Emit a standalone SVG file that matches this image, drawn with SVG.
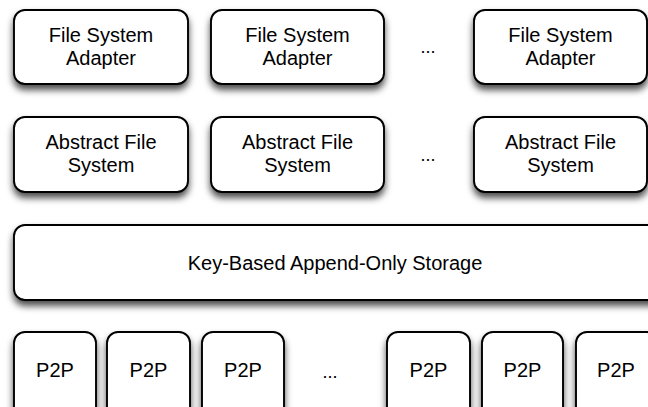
<svg xmlns="http://www.w3.org/2000/svg" width="648" height="407" viewBox="0 0 648 407">
  <defs>
    <filter id="shadow" x="-20%" y="-20%" width="140%" height="150%">
      <feDropShadow dx="0" dy="5" stdDeviation="3.5" flood-color="#000" flood-opacity="0.7"/>
    </filter>
  </defs>
  <style>
    .box { fill: #ffffff; stroke: #000000; stroke-width: 1.9; filter: url(#shadow); }
    .lbl { font-family: "Liberation Sans", Arial, Helvetica, sans-serif; font-size: 20px; fill: #000000; text-anchor: middle; }
    .dots { font-family: "Liberation Sans", Arial, Helvetica, sans-serif; font-size: 18px; fill: #000000; text-anchor: middle; }
  </style>
  <rect width="648" height="407" fill="#ffffff"/>

  <!-- adapter row -->
  <g id="adapter-1">
    <rect class="box" x="14" y="10" width="174" height="74" rx="11"/>
    <text class="lbl" x="101" y="42">File System</text>
    <text class="lbl" x="101" y="65">Adapter</text>
  </g>
  <g id="adapter-2">
    <rect class="box" x="211" y="10" width="173" height="74" rx="11"/>
    <text class="lbl" x="297.5" y="42">File System</text>
    <text class="lbl" x="297.5" y="65">Adapter</text>
  </g>
  <text class="dots" x="428" y="53">...</text>
  <g id="adapter-n">
    <rect class="box" x="474" y="10" width="173" height="74" rx="11"/>
    <text class="lbl" x="560.5" y="42">File System</text>
    <text class="lbl" x="560.5" y="65">Adapter</text>
  </g>

  <!-- abstract file system row -->
  <g id="afs-1">
    <rect class="box" x="14" y="117" width="174" height="75" rx="11"/>
    <text class="lbl" x="101" y="149">Abstract File</text>
    <text class="lbl" x="101" y="172">System</text>
  </g>
  <g id="afs-2">
    <rect class="box" x="211" y="117" width="173" height="75" rx="11"/>
    <text class="lbl" x="297.5" y="149">Abstract File</text>
    <text class="lbl" x="297.5" y="172">System</text>
  </g>
  <text class="dots" x="428" y="161">...</text>
  <g id="afs-n">
    <rect class="box" x="474" y="117" width="173" height="75" rx="11"/>
    <text class="lbl" x="560.5" y="149">Abstract File</text>
    <text class="lbl" x="560.5" y="172">System</text>
  </g>

  <!-- storage layer -->
  <g id="storage">
    <rect class="box" x="14" y="225" width="650" height="75" rx="11"/>
    <text class="lbl" x="335" y="270">Key-Based Append-Only Storage</text>
  </g>

  <!-- peer row -->
  <g id="p2p-1">
    <rect class="box" x="14" y="332" width="82" height="95" rx="11"/>
    <text class="lbl" x="55" y="377">P2P</text>
  </g>
  <g id="p2p-2">
    <rect class="box" x="107" y="332" width="83" height="95" rx="11"/>
    <text class="lbl" x="148.5" y="377">P2P</text>
  </g>
  <g id="p2p-3">
    <rect class="box" x="202" y="332" width="82" height="95" rx="11"/>
    <text class="lbl" x="243" y="377">P2P</text>
  </g>
  <text class="dots" x="330" y="378">...</text>
  <g id="p2p-4">
    <rect class="box" x="387" y="332" width="83" height="95" rx="11"/>
    <text class="lbl" x="428.5" y="377">P2P</text>
  </g>
  <g id="p2p-5">
    <rect class="box" x="482" y="332" width="81" height="95" rx="11"/>
    <text class="lbl" x="522.5" y="377">P2P</text>
  </g>
  <g id="p2p-6">
    <rect class="box" x="576" y="332" width="82" height="95" rx="11"/>
    <text class="lbl" x="616" y="377">P2P</text>
  </g>

  <!-- no connectors between layers -->
  <g id="connectors"/>
</svg>
